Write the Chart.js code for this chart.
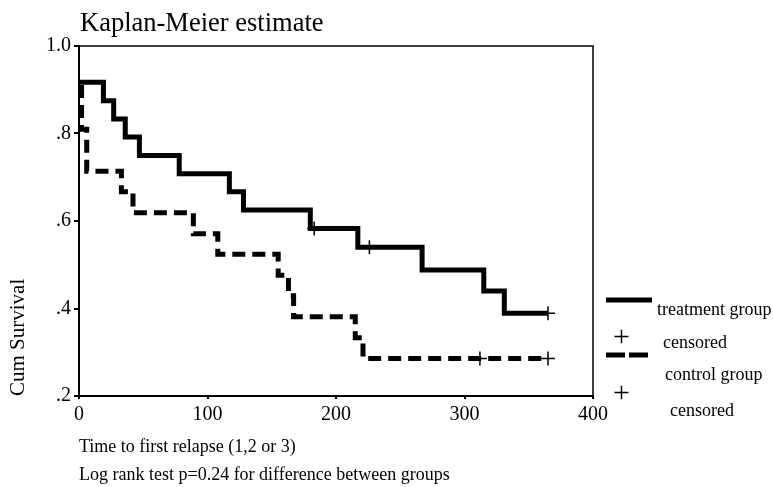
<!DOCTYPE html>
<html>
<head>
<meta charset="utf-8">
<script src="https://cdn.jsdelivr.net/npm/chart.js@4.4.1/dist/chart.umd.min.js"></script>
<style>
  html, body { margin: 0; padding: 0; background: #fff; overflow: hidden; }
  #wrap { position: relative; width: 773px; height: 487px; font-family: 'Liberation Serif', 'Times New Roman', serif; color: #000; }
  #plot { position: absolute; left: 0; top: 0; }
  .txt { position: absolute; white-space: nowrap; font-size: 18px; line-height: 18px; }
  .plus { position: absolute; font-size: 30px; line-height: 30px; }
  #title { left: 80px; top: 9px; font-size: 26.5px; line-height: 26px; }
  svg { position: absolute; left: 0; top: 0; }
</style>
</head>
<body>
<div id="wrap">
  <canvas id="plot" width="773" height="487"></canvas>
  <div id="title" class="txt">Kaplan-Meier estimate</div>
  <svg width="773" height="487">
    <line x1="606" y1="300" x2="652" y2="300" stroke="#000" stroke-width="5"/>
    <line x1="606" y1="355" x2="652" y2="355" stroke="#000" stroke-width="5" stroke-dasharray="19 4"/>
  </svg>
  <div class="txt" style="left:657px; top:300px;">treatment group</div>
  <div class="plus" style="left:613px; top:321px;">+</div>
  <div class="txt" style="left:663px; top:333px;">censored</div>
  <div class="txt" style="left:665px; top:365px;">control group</div>
  <div class="plus" style="left:613px; top:377px;">+</div>
  <div class="txt" style="left:670px; top:401px;">censored</div>
</div>
<script>
// Kaplan-Meier steps (time in days, cumulative survival)
const treatTime = [0, 19, 27, 36, 47, 78, 117, 128, 180, 217, 267, 315, 331, 365];
const treatSurv = [0.917, 0.875, 0.833, 0.792, 0.750, 0.708, 0.667, 0.625, 0.583, 0.540, 0.488, 0.440, 0.389, 0.389];
const treatCensorTime = [183, 226, 365];
const treatCensorSurv = [0.583, 0.540, 0.389];

const controlTime = [0, 2, 6, 33, 42, 89, 108, 155, 163, 167, 215, 221, 365];
const controlSurv = [0.905, 0.810, 0.714, 0.667, 0.619, 0.571, 0.524, 0.476, 0.429, 0.381, 0.333, 0.286, 0.286];
const controlCensorTime = [312, 365];
const controlCensorSurv = [0.286, 0.286];

const xTickLabels = ['0', '100', '200', '300', '400'];
const yTickLabels = ['.2', '.4', '.6', '.8', '1.0'];

const serif = "'Liberation Serif', 'Times New Roman', serif";

const toPoints = (xs, ys) => xs.map((x, i) => ({ x: x, y: ys[i] }));

// top and right edges of the box round the plot
const frame = {
    id: 'frame',
    afterDraw(chart) {
        const { ctx, chartArea: a } = chart;
        ctx.save();
        ctx.strokeStyle = '#000';
        ctx.lineWidth = 1.5;
        ctx.beginPath();
        ctx.moveTo(a.left, a.top);
        ctx.lineTo(a.right, a.top);
        ctx.lineTo(a.right, a.bottom);
        ctx.stroke();
        ctx.restore();
    }
};

const ctx = document.getElementById('plot').getContext('2d');

new Chart(ctx, {
    type: 'line',
    data: {
        datasets: [{
            label: 'treatment censored',
            data: toPoints(treatCensorTime, treatCensorSurv),
            showLine: false,
            pointStyle: 'cross',
            pointRadius: 7,
            pointBorderWidth: 1.5,
            pointBorderColor: '#000'
        },
        {
            label: 'control censored',
            data: toPoints(controlCensorTime, controlCensorSurv),
            showLine: false,
            pointStyle: 'cross',
            pointRadius: 7,
            pointBorderWidth: 1.5,
            pointBorderColor: '#000'
        },
        {
            label: 'treatment group',
            data: toPoints(treatTime, treatSurv),
            stepped: 'before',
            borderColor: '#000',
            borderWidth: 5,
            pointRadius: 0,
            fill: false
        },
        {
            label: 'control group',
            data: toPoints(controlTime, controlSurv),
            stepped: 'before',
            borderColor: '#000',
            borderWidth: 5,
            borderDash: [13, 7],
            pointRadius: 0,
            fill: false
        }]
    },
    options: {
        responsive: false,
        animation: false,
        layout: { padding: { left: 0, right: 180, top: 46, bottom: 0 } },
        plugins: {
            legend: { display: false },
            tooltip: { enabled: false }
        },
        scales: {
            x: {
                type: 'linear',
                min: 0,
                max: 400,
                afterFit: (s) => { s.height = 91; },
                ticks: {
                    stepSize: 100,
                    padding: 4,
                    maxRotation: 0,
                    autoSkip: false,
                    color: '#000',
                    font: { family: serif, size: 20 },
                    callback: (v, i) => xTickLabels[i]
                },
                grid: { display: true, drawOnChartArea: false, drawTicks: true, tickLength: 3, color: '#000', lineWidth: 2 },
                border: { display: true, color: '#000', width: 2 },
                title: {
                    display: true,
                    align: 'start',
                    text: ['Time to first relapse (1,2 or 3)', 'Log rank test p=0.24 for difference between groups'],
                    color: '#000',
                    font: { family: serif, size: 18, lineHeight: 1.6 },
                    padding: { top: 0, bottom: -3 }
                }
            },
            y: {
                min: 0.2,
                max: 1.0,
                afterFit: (s) => { s.width = 79; },
                ticks: {
                    stepSize: 0.2,
                    padding: 3,
                    color: '#000',
                    font: { family: serif, size: 20 },
                    callback: (v, i) => yTickLabels[i]
                },
                grid: { display: true, drawOnChartArea: false, drawTicks: true, tickLength: 5, color: '#000', lineWidth: 2 },
                border: { display: true, color: '#000', width: 2 },
                title: {
                    display: true,
                    align: 'start',
                    text: 'Cum Survival',
                    color: '#000',
                    font: { family: serif, size: 21 },
                    padding: { top: 6, bottom: 0 }
                }
            }
        }
    },
    plugins: [frame]
});
</script>
</body>
</html>
